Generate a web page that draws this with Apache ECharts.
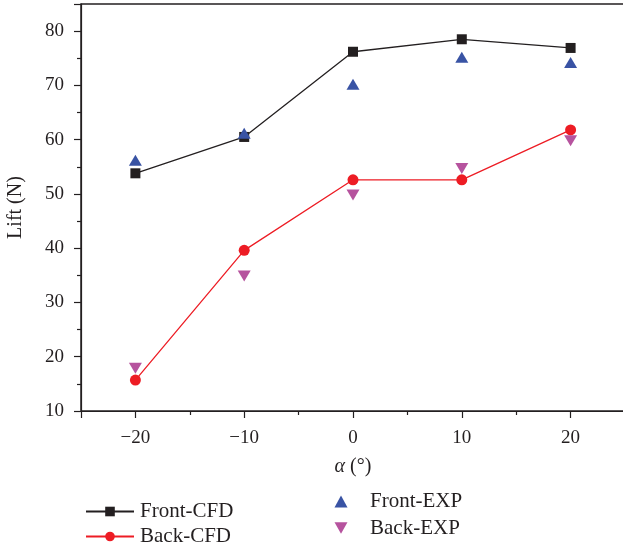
<!DOCTYPE html>
<html>
<head>
<meta charset="utf-8">
<script src="https://cdn.jsdelivr.net/npm/echarts@6/dist/echarts.min.js"></script>
<style>
  html, body { margin: 0; padding: 0; background: #fff; }
  #chart { width: 623px; height: 544px; }
</style>
</head>
<body>
<div id="chart"></div>
<script>
  // angle of attack (deg)
  const alpha = [-20, -10, 0, 10, 20];
  // lift (N)
  const frontCfd = [53.8, 60.5, 76.2, 78.5, 76.9];
  const frontExp = [56.2, 61.2, 70.2, 75.2, 74.2];
  const backCfd  = [15.7, 39.6, 52.6, 52.6, 61.8];
  const backExp  = [17.9, 34.9, 49.8, 54.7, 59.8];

  const INK = '#231f20';
  const FONT = '"Liberation Serif", "DejaVu Serif", serif';
  const COLORS = {
    frontCfd: '#231f20',
    backCfd:  '#ed1c24',
    frontExp: '#3953a4',
    backExp:  '#b6539e',
  };

  const pairs = ys => alpha.map((x, i) => [x, ys[i]]);
  const downTri = 'path://M0,0 L2,0 L1,1.75 Z';

  // one legend per entry so each can sit where the reference has it
  function legendAt(name, left, centerY, iconW, textPad) {
    return {
      data: [name],
      left: left, top: centerY - 6, padding: 0,
      itemWidth: iconW, itemHeight: 12,
      symbolKeepAspect: true,
      textStyle: {
        fontFamily: FONT, fontSize: 21, color: INK,
        lineHeight: 12, padding: [0, 0, 0, textPad],
      },
    };
  }

  const chart = echarts.init(document.getElementById('chart'));
  chart.setOption({
    animation: false,
    grid: {
      left: 81, right: -2, top: 4, bottom: 133,
      outerBoundsMode: 'none',
      show: true, borderColor: INK, borderWidth: 1.5,
    },
    xAxis: {
      type: 'value',
      min: -25, max: 25, splitNumber: 5,
      name: '{i|α} (°)',
      nameLocation: 'middle',
      nameGap: 46,
      nameTextStyle: {
        fontFamily: FONT, fontSize: 20, color: INK,
        rich: { i: { fontFamily: FONT, fontSize: 20, fontStyle: 'italic', color: INK } },
      },
      axisLine: { onZero: false, lineStyle: { color: INK, width: 1.2 } },
      axisTick: { show: true, inside: false, length: 7, lineStyle: { color: INK, width: 1.2 } },
      minorTick: { show: true, splitNumber: 2, length: 4, lineStyle: { color: INK, width: 1.2 } },
      axisLabel: {
        margin: 18, fontFamily: FONT, fontSize: 19, color: INK,
        showMinLabel: false, showMaxLabel: false,
        formatter: v => (v < 0 ? '\u2212' + Math.abs(v) : String(v)),
      },
      splitLine: { show: false },
    },
    yAxis: {
      type: 'value',
      min: 10, max: 85, splitNumber: 7,
      name: 'Lift (N)',
      nameLocation: 'middle',
      nameGap: 55,
      nameTextStyle: { fontFamily: FONT, fontSize: 20, color: INK },
      axisLine: { show: true, onZero: false, lineStyle: { color: INK, width: 1.2 } },
      axisTick: { show: true, inside: false, length: 7, lineStyle: { color: INK, width: 1.2 } },
      minorTick: { show: true, splitNumber: 2, length: 4, lineStyle: { color: INK, width: 1.2 } },
      axisLabel: {
        margin: 17, fontFamily: FONT, fontSize: 19, color: INK,
        showMaxLabel: false,
      },
      splitLine: { show: false },
    },
    legend: [
      legendAt('Front-CFD', 85, 507, 48, 1),
      legendAt('Back-CFD', 85, 532, 48, 1),
      legendAt('Front-EXP', 334.5, 497, 13, 17.5),
      legendAt('Back-EXP', 334.5, 523.5, 13, 17.5),
    ],
    series: [
      {
        name: 'Front-CFD', type: 'line',
        data: pairs(frontCfd),
        symbol: 'rect', symbolSize: 10,
        itemStyle: { color: COLORS.frontCfd },
        lineStyle: { color: COLORS.frontCfd, width: 1.3 },
        z: 3,
      },
      {
        name: 'Back-CFD', type: 'line',
        data: pairs(backCfd),
        symbol: 'circle', symbolSize: 11,
        itemStyle: { color: COLORS.backCfd },
        lineStyle: { color: COLORS.backCfd, width: 1.3 },
        z: 3,
      },
      {
        name: 'Front-EXP', type: 'scatter',
        data: pairs(frontExp),
        symbol: 'triangle', symbolSize: [13, 11],
        itemStyle: { color: COLORS.frontExp, opacity: 1 },
        z: 4,
      },
      {
        name: 'Back-EXP', type: 'scatter',
        data: pairs(backExp),
        symbol: downTri, symbolSize: [13, 11],
        itemStyle: { color: COLORS.backExp, opacity: 1 },
        z: 4,
      },
    ],
  });
</script>
</body>
</html>
